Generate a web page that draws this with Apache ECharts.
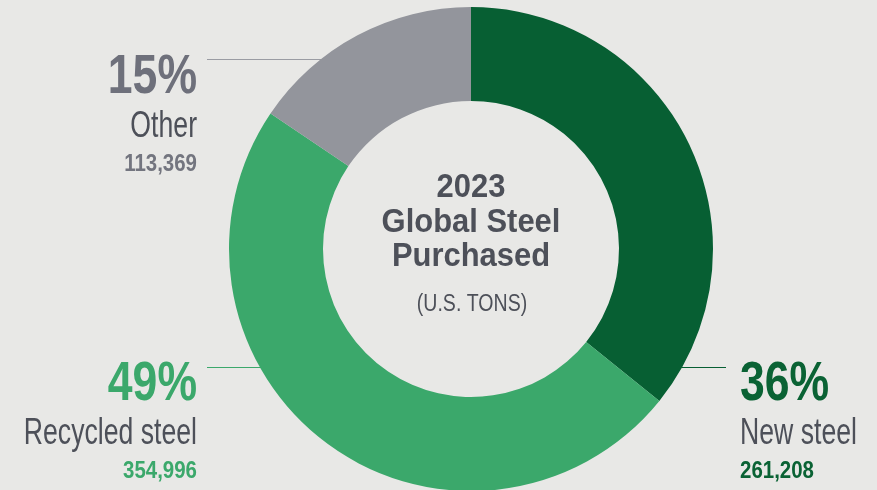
<!DOCTYPE html>
<html><head><meta charset="utf-8">
<script src="https://cdn.jsdelivr.net/npm/echarts@6/dist/echarts.min.js"></script>
<style>html,body{margin:0;padding:0;background:#e8e8e6}#c{width:877px;height:490px}</style>
</head><body><div id="c"></div>
<script>
const categories = ['New steel', 'Recycled steel', 'Other'];
const values = [261208, 354996, 113369];
const percentLabels = ['36%', '49%', '15%'];
const valueLabels = ['261,208', '354,996', '113,369'];
const centerTitle = ['2023', 'Global Steel', 'Purchased'];
const centerSub = '(U.S. TONS)';

const colors = ['#075f33', '#3ba86b', '#93959c'];
const pctColors = ['#0a6234', '#3ba86b', '#6e707b'];
const numColors = ['#0a6234', '#3ba86b', '#73757f'];
const nameColor = '#4d5059';
const F = '"Liberation Sans","Arimo",Arial,sans-serif';

const chart = echarts.init(document.getElementById('c'), null, {renderer: 'canvas'});

function textEl(x, y, str, size, weight, color, align, sx) {
  return {type: 'text', x: x, y: y, scaleX: sx, scaleY: 1,
    style: {x: 0, y: 0, text: str, fontSize: size, fontWeight: weight, fontFamily: F, fill: color, align: align, verticalAlign: 'middle'}};
}

const labelBlocks = [
  {x: 740, y: 385, align: 'left', idx: 0},
  {x: 197, y: 385, align: 'right', idx: 1},
  {x: 197, y: 78, align: 'right', idx: 2}
];
const graphics = [];
labelBlocks.forEach(b => {
  graphics.push(textEl(b.x, b.y, percentLabels[b.idx], 55, 'bold', pctColors[b.idx], b.align, 0.81));
  graphics.push(textEl(b.x, b.y + 49, categories[b.idx], 37, 'normal', nameColor, b.align, 0.72));
  graphics.push(textEl(b.x, b.y + 87, valueLabels[b.idx], 23, 'bold', numColors[b.idx], b.align, 0.89));
});
graphics.push({type: 'line', shape: {x1: 207, y1: 59.5, x2: 322, y2: 59.5}, style: {stroke: '#9a9ca3', lineWidth: 1}});
graphics.push({type: 'line', shape: {x1: 207, y1: 367.5, x2: 262, y2: 367.5}, style: {stroke: '#3ba86b', lineWidth: 1}});
graphics.push({type: 'line', shape: {x1: 680, y1: 367.5, x2: 726, y2: 367.5}, style: {stroke: '#075f33', lineWidth: 1}});
centerTitle.forEach((t, i) => {
  graphics.push(textEl(471, 188 + i * 34.5, t, 34, 'bold', '#4d5059', 'center', 0.91));
});
graphics.push(textEl(472, 305, centerSub, 23, 'normal', '#4d5059', 'center', 0.85));

chart.setOption({
  backgroundColor: '#e8e8e6',
  animation: false,
  series: [{
    type: 'pie',
    center: [471, 249],
    radius: [148, 242],
    startAngle: 90,
    clockwise: true,
    silent: true,
    label: {show: false},
    labelLine: {show: false},
    itemStyle: {borderWidth: 0},
    data: categories.map((c, i) => ({name: c, value: values[i], itemStyle: {color: colors[i]}}))
  }],
  graphic: graphics
});
</script></body></html>
